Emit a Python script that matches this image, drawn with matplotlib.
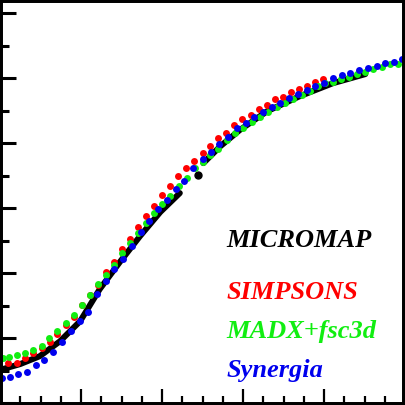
import numpy as np
import matplotlib
matplotlib.use("Agg")
from matplotlib import pyplot as plt
from matplotlib.ticker import MultipleLocator

# MICROMAP curve (NaN marks the gaps in the dense black trace)
micromap_x = [0.00, 0.25, 0.49, 0.74, 0.99, 1.23, 1.48, 1.73, 1.98, 2.22, np.nan,
              2.51, 2.72, 2.96, 3.30, 3.70, 4.11, 4.51]
micromap_y = [0.51, 0.60, 0.72, 0.95, 1.26, 1.75, 2.17, 2.57, 2.94, 3.23, np.nan,
              3.69, 3.95, 4.20, 4.49, 4.72, 4.92, 5.06]
micromap_dot_x = [2.44]
micromap_dot_y = [3.51]

simpsons_x = [0.10, 0.21, 0.31, 0.41, 0.52, 0.62, 0.70, 0.81, 0.91, 1.01,
              1.11, 1.21, 1.31, 1.41, 1.51, 1.60, 1.70, 1.80, 1.90, 2.00,
              2.10, 2.20, 2.30, 2.40, 2.51, 2.59, 2.69, 2.79, 2.89, 2.99,
              3.10, 3.20, 3.30, 3.40, 3.49, 3.59, 3.69, 3.79, 3.89, 3.99]
simpsons_y = [0.62, 0.62, 0.69, 0.77, 0.85, 0.94, 1.06, 1.20, 1.32, 1.51,
              1.66, 1.82, 2.02, 2.17, 2.37, 2.52, 2.71, 2.88, 3.03, 3.20,
              3.34, 3.49, 3.62, 3.72, 3.85, 3.95, 4.08, 4.15, 4.28, 4.37,
              4.43, 4.52, 4.58, 4.68, 4.71, 4.78, 4.83, 4.88, 4.94, 4.98]

madx_x = [0.04, 0.11, 0.21, 0.31, 0.41, 0.52, 0.60, 0.70, 0.81, 0.91,
          1.01, 1.11, 1.21, 1.31, 1.41, 1.51, 1.60, 1.70, 1.80, 1.90,
          2.00, 2.10, 2.21, 2.31, 2.41, 2.51, 2.59, 2.69, 2.80, 2.90,
          3.00, 3.11, 3.21, 3.31, 3.42, 3.52, 3.62, 3.73, 3.83, 3.93,
          4.01, 4.11, 4.21, 4.31, 4.41, 4.51, 4.60, 4.72, 4.81, 4.91]
madx_y = [0.69, 0.71, 0.74, 0.77, 0.82, 0.88, 1.00, 1.11, 1.23, 1.35,
          1.51, 1.66, 1.83, 1.97, 2.12, 2.31, 2.46, 2.62, 2.77, 2.92,
          3.06, 3.18, 3.34, 3.46, 3.62, 3.71, 3.82, 3.91, 4.05, 4.15,
          4.23, 4.32, 4.40, 4.48, 4.55, 4.62, 4.68, 4.74, 4.80, 4.88,
          4.92, 4.94, 4.98, 5.02, 5.06, 5.09, 5.14, 5.17, 5.22, 5.22]

synergia_x = [0.02, 0.12, 0.22, 0.33, 0.44, 0.54, 0.65, 0.77, 0.88, 0.99,
              1.09, 1.20, 1.31, 1.41, 1.52, 1.63, 1.74, 1.84, 1.95, 2.06,
              2.17, 2.27, 2.38, 2.51, 2.60, 2.70, 2.81, 2.93, 3.04, 3.14,
              3.25, 3.36, 3.46, 3.57, 3.68, 3.79, 3.89, 4.00, 4.11, 4.22,
              4.32, 4.43, 4.54, 4.65, 4.75, 4.86, 4.96]
synergia_y = [0.38, 0.40, 0.45, 0.48, 0.58, 0.66, 0.78, 0.94, 1.11, 1.26,
              1.40, 1.68, 1.88, 2.06, 2.22, 2.42, 2.63, 2.80, 2.98, 3.12,
              3.29, 3.42, 3.62, 3.75, 3.86, 3.98, 4.09, 4.23, 4.31, 4.40,
              4.48, 4.55, 4.62, 4.69, 4.75, 4.82, 4.88, 4.92, 5.00, 5.05,
              5.08, 5.12, 5.15, 5.18, 5.23, 5.25, 5.29]

labels = ['MICROMAP', 'SIMPSONS', 'MADX+fsc3d', 'Synergia']
label_y = [2.40, 1.60, 1.00, 0.40]
colors = ['black', '#ff0000', '#11ee11', '#0000ee']

fig = plt.figure(figsize=(4.05, 4.05), dpi=100)
ax = fig.add_axes([0, 0, 1, 1])

ax.plot(micromap_x, micromap_y, '-', color=colors[0], linewidth=4.3,
        solid_capstyle='round')
ax.plot(micromap_dot_x, micromap_dot_y, 'o', color=colors[0], markersize=5)
ax.plot(simpsons_x, simpsons_y, 'o', color=colors[1], markersize=5, markeredgewidth=0)
ax.plot(madx_x, madx_y, 'o', color=colors[2], markersize=5, markeredgewidth=0)
ax.plot(synergia_x, synergia_y, 'o', color=colors[3], markersize=5, markeredgewidth=0)

for text, ty, c in zip(labels, label_y, colors):
    ax.text(2.80, ty, text, color=c, fontsize=19, family='Liberation Serif',
            fontweight='bold', fontstyle='italic', va='baseline', ha='left')

ax.set_xlim(0, 5)
ax.set_ylim(-0.03, 6.2)
ax.xaxis.set_major_locator(MultipleLocator(1))
ax.xaxis.set_minor_locator(MultipleLocator(0.25))
ax.yaxis.set_major_locator(MultipleLocator(1))
ax.yaxis.set_minor_locator(MultipleLocator(0.5))
ax.tick_params(which='both', direction='in', labelleft=False, labelbottom=False,
               top=False, right=False)
ax.tick_params(axis='y', which='major', length=11.5, width=2.2)
ax.tick_params(axis='y', which='minor', length=6.5, width=2.2)
ax.tick_params(axis='x', which='major', length=11.5, width=1.6)
ax.tick_params(axis='x', which='minor', length=6.5, width=1.6)
for spine in ax.spines.values():
    spine.set_linewidth(4.3)

fig.savefig('out.png', dpi=100)
